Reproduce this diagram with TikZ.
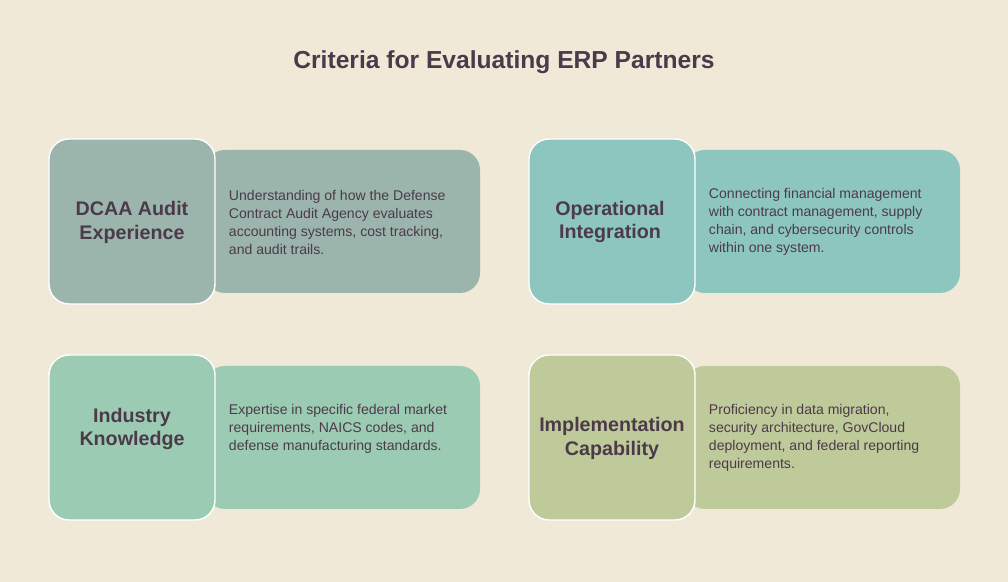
\documentclass[tikz,border=0pt]{standalone}
\usepackage{fontspec}
\setmainfont{Liberation Sans}
\usetikzlibrary{positioning}
\definecolor{bg}{HTML}{F0E9D8}
\definecolor{ink}{HTML}{4C3A4A}
\definecolor{audit}{HTML}{9BB5AC}
\definecolor{oper}{HTML}{8DC6BE}
\definecolor{indus}{HTML}{9CCBB3}
\definecolor{impl}{HTML}{BFCA9A}
\tikzset{
  px/.style={x=0.025cm,y=-0.025cm},
  panel/.style={rounded corners=0.5cm},
  tile/.style={rounded corners=0.5cm,draw=white,line width=1pt},
  head/.style={font=\fontsize{14}{17}\selectfont\bfseries,text=ink,align=center},
  desc/.style={font=\fontsize{10}{12.8}\selectfont,text=ink,align=left,anchor=west}
}
\begin{document}
\begin{tikzpicture}[px]
\fill[bg] (0,0) rectangle (1008,582);
\useasboundingbox (0,0) rectangle (1008,582);

\node[font=\fontsize{17.5}{20}\selectfont\bfseries,text=ink] (title) at (504,62) {Criteria for Evaluating ERP Partners};

% top row:
\fill[audit,panel] (205,150) rectangle (480,293);
\filldraw[fill=audit,tile] (49,139) rectangle (215,304);
\node[head] (auditH) at (132,222) {DCAA Audit\\Experience};
\node[desc] (auditD) at (224,222) {Understanding of how the Defense\\Contract Audit Agency evaluates\\accounting systems, cost tracking,\\and audit trails.};

\fill[oper,panel] (685,150) rectangle (960,293);
\filldraw[fill=oper,tile] (529,139) rectangle (695,304);
\node[head] (operH) at (610,222) {Operational\\Integration};
\node[desc] (operD) at (704,222) {Connecting financial management\\with contract management, supply\\chain, and cybersecurity controls\\within one system.};

% bottom row:
\fill[indus,panel] (205,366) rectangle (480,509);
\filldraw[fill=indus,tile] (49,355) rectangle (215,520);
\node[head] (indusH) at (132,429) {Industry\\Knowledge};
\node[desc] (indusD) at (224,429) {Expertise in specific federal market\\requirements, NAICS codes, and\\defense manufacturing standards.};

\fill[impl,panel] (685,366) rectangle (960,509);
\filldraw[fill=impl,tile] (529,355) rectangle (695,520);
\node[head] (implH) at (612,438) {Implementation\\Capability};
\node[desc] (implD) at (704,438) {Proficiency in data migration,\\security architecture, GovCloud\\deployment, and federal reporting\\requirements.};

\end{tikzpicture}
\end{document}
